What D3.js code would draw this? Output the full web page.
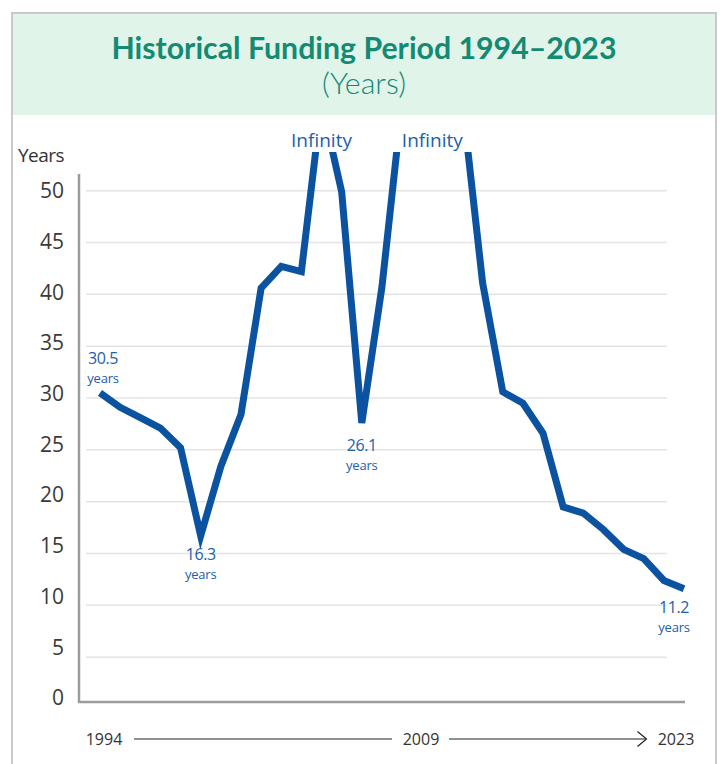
<!DOCTYPE html>
<html>
<head>
<meta charset="utf-8">
<script src="https://cdn.jsdelivr.net/npm/d3@7"></script>
<style>
  body { margin: 0; background: #fff; }
  svg { display: block; }
</style>
</head>
<body>
<svg id="chart" width="722" height="764"></svg>
<script>
// data
const years = [1994, 1995, 1996, 1997, 1998, 1999, 2000, 2001, 2002, 2003,
               2004, 2005, 2006, 2007, 2008, 2009, 2010, 2011, 2012, 2013,
               2014, 2015, 2016, 2017, 2018, 2019, 2020, 2021, 2022, 2023];
const fundingPeriod = [30.5, 29.1, 28.1, 27.1, 25.2, 16.7, 23.4, 28.4, 40.6, 42.7,
                       42.2, Infinity, 49.9, 27.6, 40.7, Infinity, Infinity, Infinity, Infinity, 41.1,
                       30.6, 29.5, 26.6, 19.5, 18.9, 17.3, 15.4, 14.5, 12.4, 11.6];
const yTicks = [0, 5, 10, 15, 20, 25, 30, 35, 40, 45, 50];
const annotatedYears = [1994, 1999, 2007, 2023];
const annotationValues = ["30.5", "16.3", "26.1", "11.2"];
const timelineLabels = ["1994", "2009", "2023"];

const title = "Historical Funding Period 1994\u20132023";
const subtitle = "(Years)";

const lineColor = "#0b53a1";
const labelColor = "#2160ab";
const teal = "#138a72";
const infCap = 58.5;   // where "Infinity" is drawn before clipping

const svg = d3.select("#chart");

// fit a text element to a target width
function fitWidth(sel, size, target) {
  const w = sel.node().getComputedTextLength();
  sel.style("font-size", (size * target / w).toFixed(2) + "px");
}

// card + header
svg.append("rect")
  .attr("x", 12).attr("y", 13).attr("width", 704).attr("height", 800)
  .attr("fill", "#fff").attr("stroke", "#c9c9c9").attr("stroke-width", 2);
svg.append("rect")
  .attr("x", 13).attr("y", 14).attr("width", 702).attr("height", 101)
  .attr("fill", "#e1f4ea");

const t = svg.append("text")
  .attr("x", 364).attr("y", 59)
  .attr("text-anchor", "middle")
  .style("font-family", "Lato, 'Open Sans', sans-serif")
  .style("font-weight", "700")
  .style("font-size", "28px")
  .style("fill", teal)
  .text(title);
fitWidth(t, 28, 505);

const st = svg.append("text")
  .attr("x", 364).attr("y", 94)
  .attr("text-anchor", "middle")
  .style("font-family", "Lato, 'Open Sans', sans-serif")
  .style("font-weight", "300")
  .style("font-size", "26px")
  .style("fill", teal)
  .text(subtitle);
fitWidth(st, 26, 84);

// scales
const x = d3.scaleLinear().domain([1994, 2023]).range([100, 684]);
const y = d3.scaleLinear().domain([0, 50]).range([709, 190.7]);
const yLabel = d3.scaleLinear().domain([0, 50]).range([698, 191]);

// gridlines
svg.append("g")
  .selectAll("line")
  .data(yTicks.filter(d => d > 0))
  .enter()
  .append("line")
  .attr("x1", 86).attr("x2", 667)
  .attr("y1", d => y(d)).attr("y2", d => y(d))
  .attr("stroke", "#e4e4e4")
  .attr("stroke-width", 1.5);

// y tick labels
const yAxis = svg.append("g")
  .attr("transform", "translate(64,0)")
  .call(d3.axisLeft(yLabel).tickValues(yTicks).tickSize(0).tickPadding(0));
yAxis.select(".domain").remove();
yAxis.selectAll("text")
  .style("font-family", "'Open Sans', sans-serif")
  .style("font-size", "21px")
  .style("fill", "#3a3a3a");

svg.append("text")
  .attr("x", 18).attr("y", 162)
  .style("font-family", "'Open Sans', sans-serif")
  .style("font-size", "19px")
  .style("fill", "#333")
  .style("letter-spacing", "-0.5px")
  .text("Years");

// axis lines
svg.append("line")
  .attr("x1", 79).attr("x2", 79).attr("y1", 174).attr("y2", 703)
  .attr("stroke", "#9c9c9c").attr("stroke-width", 2.5);
svg.append("line")
  .attr("x1", 78).attr("x2", 685).attr("y1", 702).attr("y2", 702)
  .attr("stroke", "#9c9c9c").attr("stroke-width", 2.5);

// line, clipped at the top so the Infinity years run off the chart
svg.append("clipPath").attr("id", "plotClip")
  .append("rect").attr("x", 0).attr("y", 152).attr("width", 722).attr("height", 612);

const points = years.map((yr, i) => ({ year: yr, value: fundingPeriod[i] }));
const line = d3.line()
  .x(d => x(d.year))
  .y(d => isFinite(d.value) ? y(d.value) : y(infCap));

svg.append("path")
  .datum(points)
  .attr("clip-path", "url(#plotClip)")
  .attr("d", line)
  .attr("fill", "none")
  .attr("stroke", lineColor)
  .attr("stroke-width", 7);

// Infinity labels, centred over each run of infinite years
const runs = [];
points.forEach((p, i) => {
  if (!isFinite(p.value)) {
    if (i > 0 && !isFinite(points[i - 1].value)) runs[runs.length - 1].push(p.year);
    else runs.push([p.year]);
  }
});
svg.selectAll("text.inf")
  .data(runs)
  .enter()
  .append("text")
  .attr("class", "inf")
  .attr("x", d => x((d[0] + d[d.length - 1]) / 2))
  .attr("y", 147)
  .attr("text-anchor", "middle")
  .style("font-family", "'Open Sans', sans-serif")
  .style("font-size", "19px")
  .style("fill", labelColor)
  .text("Infinity");

// value annotations (number with "years" underneath)
const labelOffsets = { 1994: [3, -29], 1999: [0, 24], 2007: [0, 28], 2023: [-10, 24] };
const ann = svg.selectAll("g.ann")
  .data(annotatedYears.map((yr, i) => ({ year: yr, text: annotationValues[i], value: fundingPeriod[years.indexOf(yr)] })))
  .enter()
  .append("g")
  .attr("class", "ann")
  .attr("transform", d => "translate(" + (x(d.year) + labelOffsets[d.year][0]) + "," + (y(d.value) + labelOffsets[d.year][1]) + ")")
  .attr("text-anchor", "middle")
  .style("font-family", "'Open Sans', sans-serif")
  .style("fill", labelColor);
ann.append("text").attr("y", 0)
  .style("font-size", "16px").style("letter-spacing", "-0.4px")
  .text(d => d.text);
ann.append("text").attr("y", 19)
  .style("font-size", "13px").style("letter-spacing", "-0.2px")
  .text("years");

// timeline under the chart
const tl = svg.append("g")
  .style("font-family", "'Open Sans', sans-serif")
  .style("font-size", "16px")
  .style("fill", "#333");
tl.append("text").attr("x", 104).attr("y", 745).attr("text-anchor", "middle").text(timelineLabels[0]);
tl.append("text").attr("x", 421).attr("y", 745).attr("text-anchor", "middle").text(timelineLabels[1]);
tl.append("text").attr("x", 676).attr("y", 745).attr("text-anchor", "middle").text(timelineLabels[2]);
tl.append("line").attr("x1", 134).attr("x2", 392).attr("y1", 739).attr("y2", 739)
  .attr("stroke", "#222").attr("stroke-width", 1.2);
tl.append("line").attr("x1", 449).attr("x2", 646).attr("y1", 739).attr("y2", 739)
  .attr("stroke", "#222").attr("stroke-width", 1.2);
tl.append("path").attr("d", "M637.5,731.5L646.5,739L637.5,746.5")
  .attr("fill", "none").attr("stroke", "#222").attr("stroke-width", 1.2);
</script>
</body>
</html>
